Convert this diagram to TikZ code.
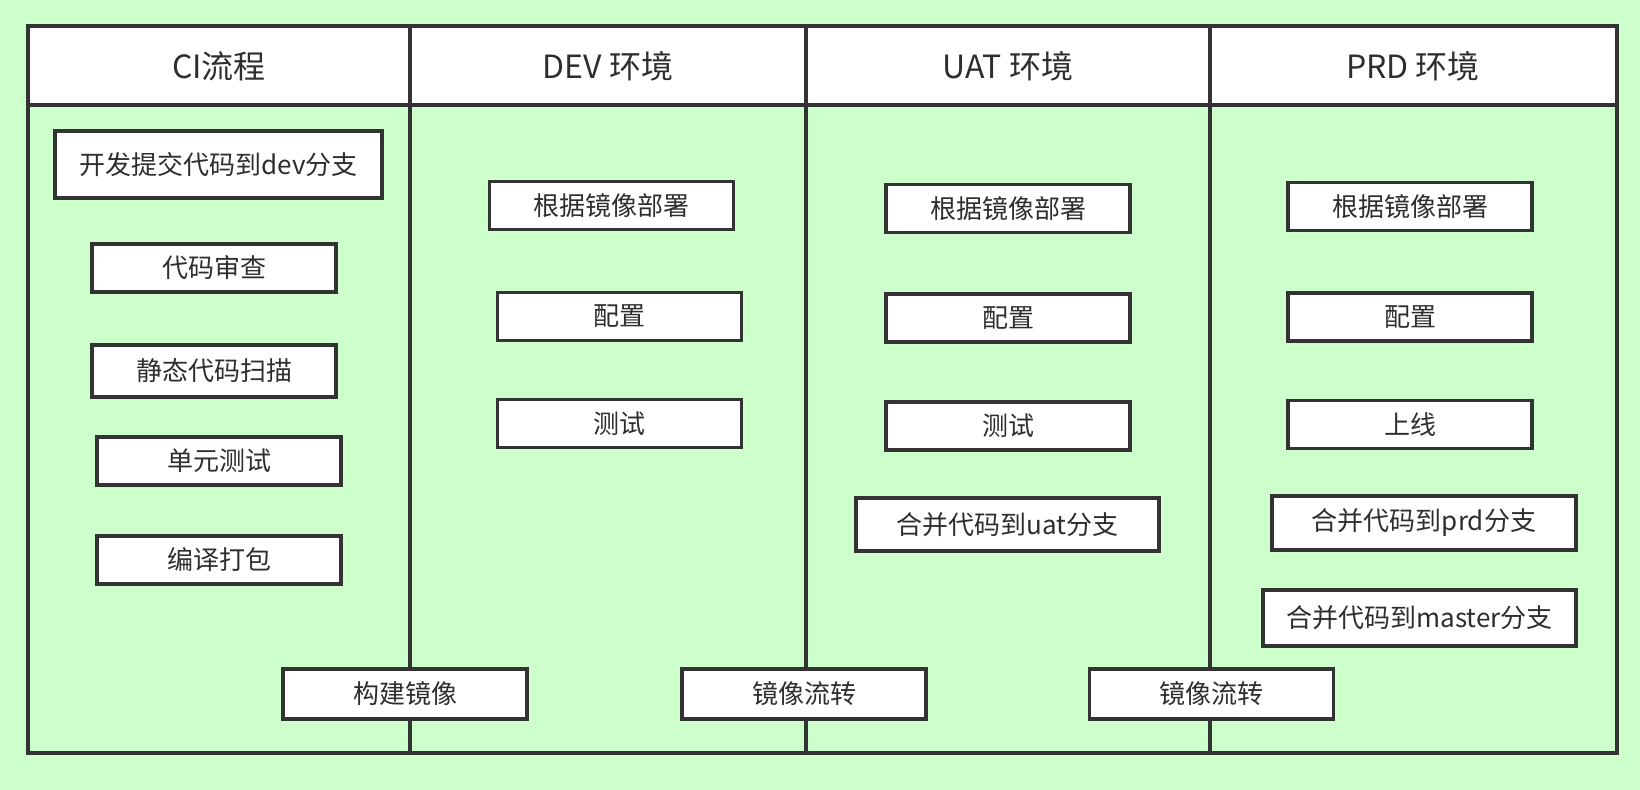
\documentclass[tikz,border=0pt]{standalone}
\usepackage{fontspec}
\setmainfont{Noto Sans CJK SC}
\definecolor{bggreen}{HTML}{CCFFCC}
\definecolor{linegray}{HTML}{333333}
\definecolor{textgray}{HTML}{2E2E2E}

\begin{document}
\begin{tikzpicture}[x=0.5pt, y=-0.5pt,
        box/.style={draw=linegray, line width=1.6pt, fill=white, text=textgray,
            font=\fontsize{13}{15}\selectfont, inner sep=0pt,
            minimum width=122pt, minimum height=24pt},
        head/.style={text=textgray, font=\fontsize{16}{18}\selectfont}]
    % background and lanes
    \fill[bggreen] (0,0) rectangle (1640,790);
    \useasboundingbox (0,0) rectangle (1640,790);
    \fill[white] (28,26) rectangle (1617,105);
    \draw[linegray, line width=1.7pt] (28,26) rectangle (1617,753);
    \draw[linegray, line width=1.7pt] (28,105) -- (1617,105);
    \foreach \lx in {410, 806, 1210}
        \draw[linegray, line width=1.7pt] (\lx,26) -- (\lx,753);
    % headers
    \node[head] (hci)  at (219,66)  {CI流程};
    \node[head] (hdev) at (608,66)  {DEV 环境};
    \node[head] (huat) at (1008,66) {UAT 环境};
    \node[head] (hprd) at (1413,66) {PRD 环境};
    % CI
    \node[box, minimum width=163.5pt, minimum height=33.5pt] (ci1) at (218.5,164.5) {开发提交代码到dev分支};
    \node[box] (ci2) at (214,268) {代码审查};
    \node[box, minimum height=26pt] (ci3) at (214,371) {静态代码扫描};
    \node[box] (ci4) at (219,461) {单元测试};
    \node[box] (ci5) at (219,560) {编译打包};
    % DEV
    \node[box] (dev1) at (611.5,205.5) {根据镜像部署};
    \node[box] (dev2) at (619.5,316.5) {配置};
    \node[box] (dev3) at (619.5,423.5) {测试};
    % UAT
    \node[box] (uat1) at (1008,208.5) {根据镜像部署};
    \node[box] (uat2) at (1008,318) {配置};
    \node[box] (uat3) at (1008,426) {测试};
    \node[box, minimum width=151.5pt, minimum height=26.5pt] (uat4) at (1007.5,524.5) {合并代码到uat分支};
    % PRD
    \node[box] (prd1) at (1410,206.5) {根据镜像部署};
    \node[box] (prd2) at (1410,317) {配置};
    \node[box] (prd3) at (1410,424.5) {上线};
    \node[box, minimum width=152pt, minimum height=27pt] (prd4) at (1424,523) {合并代码到prd分支};
    \node[box, minimum width=156.5pt, minimum height=28pt] (prd5) at (1419.5,618) {合并代码到master分支};
    % image hand-over
    \node[box, minimum height=25pt] (build) at (405,694) {构建镜像};
    \node[box, minimum height=25pt] (flow1) at (804,694) {镜像流转};
    \node[box, minimum height=25pt] (flow2) at (1211.5,694) {镜像流转};
\end{tikzpicture}
\end{document}
